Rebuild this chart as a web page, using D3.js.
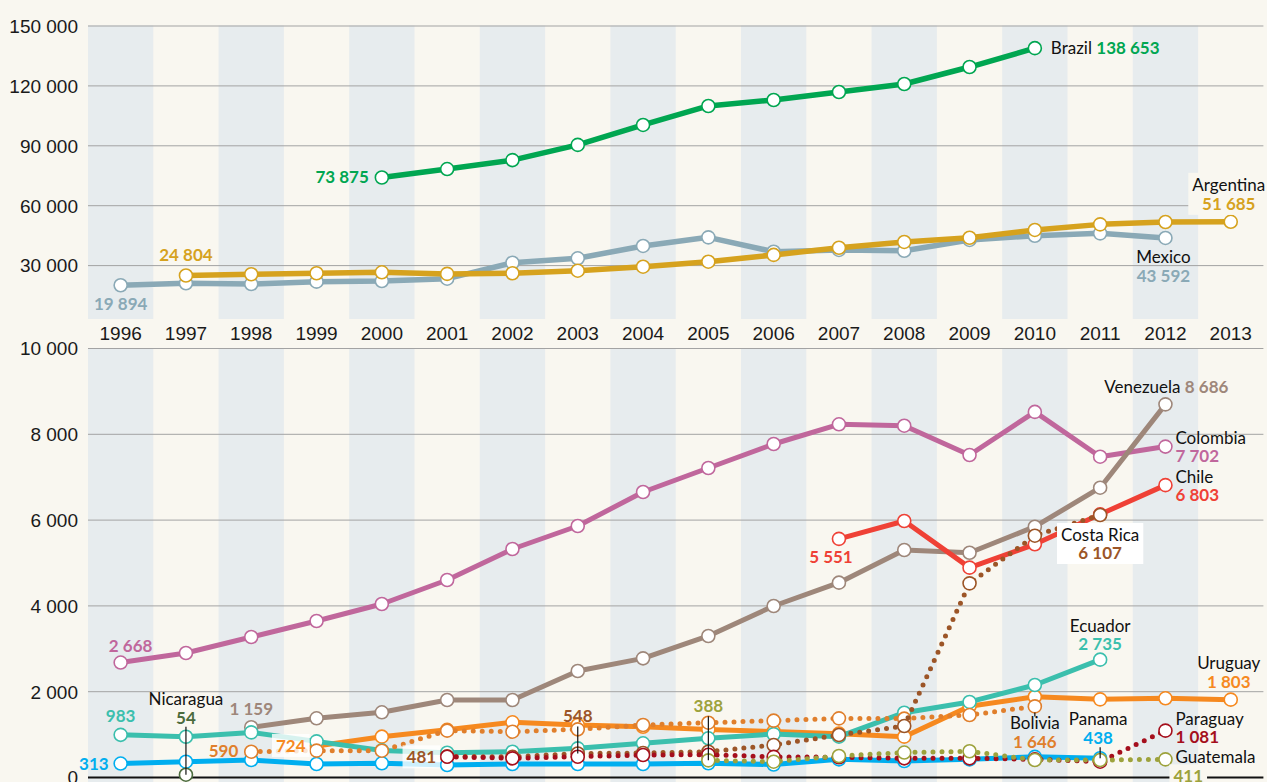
<!DOCTYPE html>
<html>
<head>
<meta charset="utf-8">
<script src="https://cdn.jsdelivr.net/npm/d3@7"></script>
<style>
  html, body { margin: 0; padding: 0; background: #f9f7f0; }
  svg { display: block; font-family: Lato, "Open Sans", sans-serif; }
</style>
</head>
<body>
<svg width="1267" height="782"></svg>
<script>
const years = [1996, 1997, 1998, 1999, 2000, 2001, 2002, 2003, 2004,
               2005, 2006, 2007, 2008, 2009, 2010, 2011, 2012, 2013];

// top panel
const topTicks = [30000, 60000, 90000, 120000, 150000];
const brazil    = [73875, 78100, 82600, 90200, 100200, 109700, 112700, 116700, 120700, 129200, 138653];            // 2000-2010
const argentina = [24804, 25400, 25900, 26400, 25600, 25900, 27200, 29200, 31700, 35100, 38700, 41600, 43700,
                   47600, 50400, 51600, 51685];                                                                   // 1997-2013
const mexico    = [19894, 20900, 20500, 21700, 22000, 23200, 31200, 33400, 39600, 43900, 36700, 37600, 37200,
                   42600, 44700, 45900, 43592];                                                                   // 1996-2012

// bottom panel
const bottomTicks = [0, 2000, 4000, 6000, 8000, 10000];
const colombia  = [2668, 2890, 3263, 3636, 4033, 4592, 5315, 5851, 6643, 7203, 7762, 8221, 8189, 7506, 8510, 7466, 7702]; // 1996-2012
const venezuela = [1159, 1368, 1508, 1795, 1795, 2471, 2766, 3287, 3986, 4530, 5291, 5228, 5835, 6744, 8686];  // 1998-2012
const chile     = [5551, 5967, 4880, 5424, 6123, 6803];                                                        // 2007-2012
const costaRica = [481, 470, 548, 559, 590, 746, 979, 1189, 4514, 5625, 6107];                                 // 2001-2011
const ecuador   = [983, 939, 1040, 830, 620, 566, 590, 668, 785, 902, 1000, 940, 1499, 1750, 2145, 2735];       // 1996-2011
const uruguay   = [724, 940, 1100, 1275, 1212, 1170, 1110, 1060, 1010, 940, 1650, 1870, 1810, 1834, 1803];      // 1999-2013
const bolivia   = [590, 615, 613, 1080, 1056, 1111, 1212, 1266, 1313, 1367, 1360, 1445, 1646];                 // 1998-2010
const paraguay  = [473, 435, 473, 513, 520, 470, 460, 435, 435, 412, 357, 1081];                               // 2001-2012
const guatemala = [388, 357, 490, 570, 600, 396, 396, 411];                                                    // 2005-2012
const panama    = [313, 357, 396, 303, 319, 280, 303, 303, 303, 319, 290, 412, 373, 412, 470, 438];             // 1996-2011
const nicaragua = [54];                                                                                        // 1997

const series = [
  {name: 'Mexico',     panel: 'top', start: 1996, values: mexico,    color: '#8aa9b6'},
  {name: 'Argentina',  panel: 'top', start: 1997, values: argentina, color: '#d6a21e'},
  {name: 'Brazil',     panel: 'top', start: 2000, values: brazil,    color: '#00a651'},
  {name: 'Colombia',   panel: 'bot', start: 1996, values: colombia,  color: '#c0679c'},
  {name: 'Venezuela',  panel: 'bot', start: 1998, values: venezuela, color: '#9e877a'},
  {name: 'Chile',      panel: 'bot', start: 2007, values: chile,     color: '#ef4136'},
  {name: 'Uruguay',    panel: 'bot', start: 1999, values: uruguay,   color: '#f6891f'},
  {name: 'Ecuador',    panel: 'bot', start: 1996, values: ecuador,   color: '#3bbfad'},
  {name: 'Panama',     panel: 'bot', start: 1996, values: panama,    color: '#00aeef'},
  {name: 'Bolivia',    panel: 'bot', start: 1998, values: bolivia,   color: '#e07f2c', dotted: true},
  {name: 'Costa Rica', panel: 'bot', start: 2001, values: costaRica, color: '#9c5527', dotted: true},
  {name: 'Paraguay',   panel: 'bot', start: 2001, values: paraguay,  color: '#a50f1c', dotted: true},
  {name: 'Guatemala',  panel: 'bot', start: 2005, values: guatemala, color: '#9da23c', dotted: true},
  {name: 'Nicaragua',  panel: 'bot', start: 1997, values: nicaragua, color: '#4b6b3c'}
];

const width = 1267;
const height = 782;
const fmt = v => d3.format(',')(v).replace(/,/g, ' ');

let svg = d3.select('svg');

svg.append('rect')
  .attr('width', width)
  .attr('height', height)
  .attr('fill', '#f9f7f0');

let x = d3.scaleBand()
          .domain(years)
          .range([88, 1263.4]);
let cx = yr => x(yr) + x.bandwidth() / 2;

let yTop = d3.scaleLinear().domain([0, 150000]).range([325, 25.5]);
let yBot = d3.scaleLinear().domain([0, 10000]).range([777, 348]);
let yOf = s => (s.panel === 'top' ? yTop : yBot);

// alternating column shading
let shaded = years.filter((d, i) => i % 2 === 0);
svg.append('g')
  .selectAll('rect')
  .data(shaded)
  .enter()
  .append('rect')
    .attr('x', d => x(d))
    .attr('width', x.bandwidth())
    .attr('y', yTop(150000))
    .attr('height', 319 - yTop(150000))
    .attr('fill', '#e7ecee');
svg.append('g')
  .selectAll('rect')
  .data(shaded)
  .enter()
  .append('rect')
    .attr('x', d => x(d))
    .attr('width', x.bandwidth())
    .attr('y', yBot(10000))
    .attr('height', height - yBot(10000))
    .attr('fill', '#e7ecee');

// grid + tick labels
function grid(scale, ticks) {
  let g = svg.append('g')
    .attr('transform', 'translate(88,0)')
    .call(d3.axisLeft(scale)
      .tickValues(ticks)
      .tickSize(-(1263.4 - 88))
      .tickPadding(10)
      .tickFormat(fmt));
  g.select('.domain').remove();
  g.selectAll('line').attr('stroke', '#a3a3a3').attr('stroke-width', 1);
  g.selectAll('text')
    .attr('fill', '#1a1a1a')
    .style('font-size', '19px')
    .attr('dy', '0.36em');
  return g;
}
grid(yTop, topTicks);
let gb = grid(yBot, bottomTicks);
gb.selectAll('.tick')
  .filter(d => d === 0)
  .select('line')
    .attr('stroke', '#111')
    .attr('stroke-width', 2);

// year labels
svg.append('g')
  .attr('transform', 'translate(0,333)')
  .call(d3.axisBottom(x).tickSize(0).tickPadding(0))
  .call(g => g.select('.domain').remove())
  .selectAll('text')
    .attr('dy', '0.36em')
    .attr('fill', '#1a1a1a')
    .style('font-size', '19px');

// lines and markers
let pts = s => s.values.map((v, i) => ({year: s.start + i, value: v}));

series.forEach(s => {
  let y = yOf(s);
  let line = d3.line()
               .x(d => cx(d.year))
               .y(d => y(d.value));
  let g = svg.append('g').attr('class', 'series');
  g.append('path')
    .datum(pts(s))
    .attr('d', line)
    .attr('fill', 'none')
    .attr('stroke', s.color)
    .attr('stroke-width', s.panel === 'top' ? 5.5 : 5)
    .attr('stroke-linecap', 'round')
    .attr('stroke-linejoin', 'round')
    .attr('stroke-dasharray', s.dotted ? '0 9' : null);
  g.selectAll('circle')
    .data(pts(s))
    .enter()
    .append('circle')
      .attr('cx', d => cx(d.year))
      .attr('cy', d => y(d.value))
      .attr('r', 6.5)
      .attr('fill', '#fff')
      .attr('stroke', s.color)
      .attr('stroke-width', 1.6);
});

// annotations: offsets from the data point
const notes = [
  {s: 'Brazil', year: 2010, dx: 16, anchor: 'start', lines: [{dy: 6, name: 'Brazil ', value: true}]},
  {s: 'Brazil', year: 2000, dx: -13, anchor: 'end', lines: [{dy: 6, value: true}]},
  {s: 'Argentina', year: 1997, dx: 0, anchor: 'middle', lines: [{dy: -14, value: true}]},
  {s: 'Argentina', year: 2013, dx: -2, anchor: 'middle', box: '#f9f7f0', lines: [{dy: -31, name: 'Argentina'}, {dy: -12, value: true}]},
  {s: 'Mexico', year: 1996, dx: 0, anchor: 'middle', lines: [{dy: 25, value: true}]},
  {s: 'Mexico', year: 2012, dx: -2, anchor: 'middle', lines: [{dy: 25, name: 'Mexico'}, {dy: 44, value: true}]},

  {s: 'Colombia', year: 1996, dx: 10, anchor: 'middle', lines: [{dy: -11, value: true}]},
  {s: 'Colombia', year: 2012, dx: 10, anchor: 'start', lines: [{dy: -3, name: 'Colombia'}, {dy: 15, value: true}]},
  {s: 'Venezuela', year: 2012, dx: 63, anchor: 'end', lines: [{dy: -11, name: 'Venezuela ', value: true}]},
  {s: 'Chile', year: 2012, dx: 10, anchor: 'start', lines: [{dy: -2, name: 'Chile'}, {dy: 16, value: true}]},
  {s: 'Chile', year: 2007, dx: -8, anchor: 'middle', lines: [{dy: 24, value: true}]},
  {s: 'Costa Rica', year: 2011, dx: 0, anchor: 'middle', box: '#ffffff', lines: [{dy: 26, name: 'Costa Rica'}, {dy: 44, value: true}]},
  {s: 'Ecuador', year: 2011, dx: 0, anchor: 'middle', lines: [{dy: -28, name: 'Ecuador'}, {dy: -10, value: true}]},
  {s: 'Uruguay', year: 2013, dx: -2, anchor: 'middle', lines: [{dy: -31, name: 'Uruguay'}, {dy: -12, value: true}]},
  {s: 'Paraguay', year: 2012, dx: 10, anchor: 'start', lines: [{dy: -6, name: 'Paraguay'}, {dy: 12, value: true}]},
  {s: 'Guatemala', year: 2012, dx: 10, anchor: 'start', lines: [{dy: 4, name: 'Guatemala'}]},
  {s: 'Guatemala', year: 2012, dx: 8, anchor: 'start', box: '#f9f7f0', lines: [{dy: 23, value: true}]},
  {s: 'Bolivia', year: 2010, dx: 0, anchor: 'middle', leader: [6, 10], lines: [{dy: 23, name: 'Bolivia'}, {dy: 42, value: true}]},
  {s: 'Panama', year: 2011, dx: -2, anchor: 'middle', leader: [-11, 0], lines: [{dy: -33, name: 'Panama'}, {dy: -14, value: true}]},
  {s: 'Nicaragua', year: 1997, dx: 0, anchor: 'middle', leader: [-48, 0], lines: [{dy: -70, name: 'Nicaragua'}, {dy: -51, value: true}]},
  {s: 'Ecuador', year: 1996, dx: 0, anchor: 'middle', lines: [{dy: -13, value: true}]},
  {s: 'Panama', year: 1996, dx: -12, anchor: 'end', lines: [{dy: 6, value: true}]},
  {s: 'Venezuela', year: 1998, dx: 0, anchor: 'middle', lines: [{dy: -12, value: true}]},
  {s: 'Bolivia', year: 1998, dx: -13, anchor: 'end', lines: [{dy: 5, value: true}]},
  {s: 'Uruguay', year: 1999, dx: -11, anchor: 'end', box: 'rgba(255,255,255,0.8)', lines: [{dy: 6, value: true}]},
  {s: 'Costa Rica', year: 2001, dx: -11, anchor: 'end', box: 'rgba(255,255,255,0.8)', lines: [{dy: 7, value: true}]},
  {s: 'Costa Rica', year: 2003, dx: 0, anchor: 'middle', leader: [-27, 0], lines: [{dy: -31, value: true}]},
  {s: 'Guatemala', year: 2005, dx: 0, anchor: 'middle', leader: [-44, 0], lines: [{dy: -48, value: true}]}
];

let noteLayer = svg.append('g');
notes.forEach(n => {
  let s = series.find(d => d.name === n.s);
  let v = s.values[n.year - s.start];
  let px = cx(n.year);
  let py = yOf(s)(v);
  let g = noteLayer.append('g');
  if (n.leader) {
    g.append('line')
      .attr('x1', px).attr('x2', px)
      .attr('y1', py + n.leader[0]).attr('y2', py + n.leader[1])
      .attr('stroke', '#111')
      .attr('stroke-width', 1.2);
  }
  let tg = g.append('g');
  n.lines.forEach(l => {
    let t = tg.append('text')
      .attr('x', px + n.dx)
      .attr('y', py + l.dy)
      .attr('text-anchor', n.anchor)
      .style('font-size', '17px');
    if (l.name) t.append('tspan').attr('fill', '#111').text(l.name);
    if (l.value) t.append('tspan').attr('fill', s.color).style('font-weight', 700).text(fmt(v));
  });
  if (n.box) {
    let b = tg.node().getBBox();
    g.insert('rect', ':first-child')
      .attr('x', b.x - 4).attr('y', b.y - 1)
      .attr('width', b.width + 8).attr('height', b.height + 2)
      .attr('fill', n.box);
  }
});
</script>
</body>
</html>
